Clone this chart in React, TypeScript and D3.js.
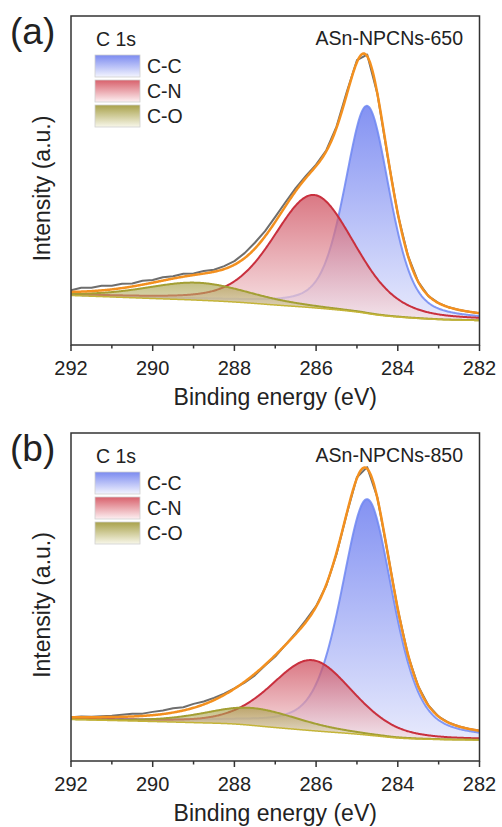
import React from "react";
import * as d3 from "d3";

// ---------- data ----------
const X_MAJOR = [292, 290, 288, 286, 284, 282];
const X_MINOR = [291, 289, 287, 285, 283];
const COMPONENTS = ["C-C", "C-N", "C-O"];
const CORE_LEVEL = "C 1s";
const X_TITLE = "Binding energy (eV)";
const Y_TITLE = "Intensity (a.u.)";

// Shirley-type background (binding energy, intensity)
const BG_E = [292, 291, 290, 289, 288, 287, 286, 285, 284.5, 284, 283, 282];
const A_BG_I = [15.05, 14.6, 14.13, 13.68, 13.07, 12.16, 11.25, 10.03, 9.12, 8.51, 7.75, 7.45];
const B_BG_I = [12.65, 12.35, 12.04, 11.7, 11.28, 10.2, 9.15, 8.2, 7.6, 7.0, 6.55, 6.4];

// fitted components: C-C, C-N, C-O
const A_SAMPLE = "ASn-NPCNs-650";
const A_PEAK_CENTER = [284.75, 286.05, 288.9];
const A_PEAK_HEIGHT = [63.1, 34.3, 5.3];
const A_PEAK_FWHM = [1.3, 2.35, 3.0];
const A_PEAK_ETA = [0.4, 0.3, 0.3];

const B_SAMPLE = "ASn-NPCNs-850";
const B_PEAK_CENTER = [284.75, 286.1, 287.55];
const B_PEAK_HEIGHT = [71.9, 21.5, 5.3];
const B_PEAK_FWHM = [1.5, 2.35, 2.7];
const B_PEAK_ETA = [0.45, 0.3, 0.3];

// raw spectrum, as deviation from the fit envelope
const RAW_E = [292, 291.75, 291.5, 291.25, 291, 290.75, 290.5, 290.25, 290, 289.75, 289.5, 289.25, 289,
  288.75, 288.5, 288.25, 288, 287.75, 287.5, 287.25, 287, 286.75, 286.5, 286.25, 286, 285.75, 285.5,
  285.25, 285, 284.75, 284.5, 284.25, 284, 283.75, 283.5, 283.25, 283, 282.75, 282.5, 282.25, 282];
const A_RAW_RESID = [0.5, 1.2, 1.0, 1.4, 1.1, 1.3, 0.9, 1.2, 0.8, 1.0, 0.7, 0.9, 0.5,
  0.8, 0.6, 0.9, 1.1, 1.5, 1.8, 1.6, 1.5, 1.2, 0.9, 0.6, 0.4, 0.3, 0.4,
  0.8, 0.6, 0.5, 0.0, -0.3, -0.2, 0.0, 0.0, -0.1, 0.0, 0.0, 0.0, 0.0, 0.0];
const B_RAW_RESID = [0.0, 0.2, 0.1, 0.3, 0.4, 0.6, 0.8, 0.7, 1.0, 1.1, 1.3, 1.0, 1.2,
  0.9, 0.7, 0.4, 0.1, -0.3, -0.5, -0.2, -0.4, 0.0, 0.3, 0.6, 0.2, -0.3, -0.5,
  -0.2, 0.3, 0.5, 0.2, 0.0, -0.2, -0.2, 0.0, 0.0, 0.0, 0.0, 0.0, 0.0, 0.0];

// ---------- styles ----------
const FONT = "'Liberation Sans', Arial, Helvetica, sans-serif";
const LINE_COLORS = ["#6f87f2", "#c9303e", "#a39f34"];
const FILL_TOP = ["#6e7ff0", "#cc4454", "#a0983a"];
const FILL_BOTTOM = ["#e3e6fc", "#f7e2e5", "#ebe7cf"];
const FILL_OPACITY = [0.85, 0.72, 0.62];
const LEG_TOP = ["#7b8af0", "#d8606b", "#a8a14a"];
const LEG_BOTTOM = ["#f3f4fe", "#fdf0f2", "#f8f7ea"];
const ENVELOPE_COLOR = "#f3901f";
const RAW_COLOR = "#6e6e6e";
const BG_COLOR = "#c4b438";

const LEFT = 71;
const RIGHT = 479.5;

function pseudoVoigt(x: number, c: number, h: number, w: number, eta: number) {
  const r = (x - c) / w;
  const r2 = 4 * r * r;
  return h * ((1 - eta) * Math.exp(-Math.LN2 * r2) + eta / (1 + r2));
}

function monotone(xsIn: number[], ysIn: number[]) {
  const idx = xsIn.map((_, i) => i).sort((a, b) => xsIn[a] - xsIn[b]);
  const xs = idx.map((i) => xsIn[i]);
  const ys = idx.map((i) => ysIn[i]);
  const n = xs.length;
  const d: number[] = [];
  const m: number[] = [];
  for (let i = 0; i < n - 1; i++) d.push((ys[i + 1] - ys[i]) / (xs[i + 1] - xs[i]));
  m[0] = d[0];
  m[n - 1] = d[n - 2];
  for (let i = 1; i < n - 1; i++) m[i] = d[i - 1] * d[i] <= 0 ? 0 : (d[i - 1] + d[i]) / 2;
  for (let i = 0; i < n - 1; i++) {
    if (d[i] === 0) { m[i] = 0; m[i + 1] = 0; continue; }
    const a = m[i] / d[i], b = m[i + 1] / d[i], s = a * a + b * b;
    if (s > 9) { const t = 3 / Math.sqrt(s); m[i] = t * a * d[i]; m[i + 1] = t * b * d[i]; }
  }
  return (x: number) => {
    let i = d3.bisectRight(xs, x) - 1;
    i = Math.max(0, Math.min(n - 2, i));
    const h = xs[i + 1] - xs[i];
    const t = (x - xs[i]) / h;
    const t2 = t * t, t3 = t2 * t;
    return (2 * t3 - 3 * t2 + 1) * ys[i] + (t3 - 2 * t2 + t) * h * m[i] +
      (-2 * t3 + 3 * t2) * ys[i + 1] + (t3 - t2) * h * m[i + 1];
  };
}

type PanelProps = {
  id: string;
  letter: string;
  sample: string;
  top: number;
  bottom: number;
  bgI: number[];
  centers: number[];
  heights: number[];
  fwhm: number[];
  eta: number[];
  resid: number[];
};

function Panel(p: PanelProps) {
  const x = d3.scaleLinear().domain([292, 282]).range([LEFT, RIGHT]);
  const y = d3.scaleLinear().domain([0, 100]).range([p.bottom, p.top]);
  const bg = monotone(BG_E, p.bgI);
  const grid = d3.range(282, 292.0001, 0.02);
  const comp = (k: number, e: number) => pseudoVoigt(e, p.centers[k], p.heights[k], p.fwhm[k], p.eta[k]);
  const envelope = (e: number) => bg(e) + COMPONENTS.reduce((s, _, k) => s + comp(k, e), 0);

  const area = (k: number) =>
    d3.area<number>().x((e) => x(e)).y0((e) => y(bg(e))).y1((e) => y(bg(e) + comp(k, e)))(grid) || "";
  const compLine = (k: number) =>
    d3.line<number>().x((e) => x(e)).y((e) => y(bg(e) + comp(k, e)))(grid) || "";
  const bgLine = d3.line<number>().x((e) => x(e)).y((e) => y(bg(e))).curve(d3.curveMonotoneX)(grid) || "";
  const envLine = d3.line<number>().x((e) => x(e)).y((e) => y(envelope(e)))(grid) || "";
  const rawLine = d3.line<number>().x((e) => x(e)).y((e, i) => y(envelope(e) + p.resid[i]))(RAW_E) || "";

  const clipId = `clip-${p.id}`;
  const legX = 95;
  const legTop = p.top + 39;

  return (
    <g>
      <defs>
        <clipPath id={clipId}>
          <rect x={LEFT} y={p.top} width={RIGHT - LEFT} height={p.bottom - p.top} />
        </clipPath>
        {COMPONENTS.map((c, k) => (
          <linearGradient key={c} id={`fill-${p.id}-${k}`} x1="0" y1="0" x2="0" y2="1">
            <stop offset="0" stopColor={FILL_TOP[k]} />
            <stop offset="1" stopColor={FILL_BOTTOM[k]} />
          </linearGradient>
        ))}
        {COMPONENTS.map((c, k) => (
          <linearGradient key={c} id={`leg-${p.id}-${k}`} x1="0" y1="0" x2="0" y2="1">
            <stop offset="0" stopColor={LEG_TOP[k]} />
            <stop offset="1" stopColor={LEG_BOTTOM[k]} />
          </linearGradient>
        ))}
      </defs>

      <g clipPath={`url(#${clipId})`}>
        {COMPONENTS.map((c, k) => (
          <g key={c}>
            <path d={area(k)} fill={`url(#fill-${p.id}-${k})`} fillOpacity={FILL_OPACITY[k]} />
            <path d={compLine(k)} fill="none" stroke={LINE_COLORS[k]} strokeWidth={2}
              strokeOpacity={k === 0 ? 0.85 : 1} />
          </g>
        ))}
        <path d={bgLine} fill="none" stroke={BG_COLOR} strokeWidth={1.5} />
        <path d={rawLine} fill="none" stroke={RAW_COLOR} strokeWidth={2} strokeLinejoin="round" />
        <path d={envLine} fill="none" stroke={ENVELOPE_COLOR} strokeWidth={2.5} />
      </g>

      <rect x={LEFT} y={p.top} width={RIGHT - LEFT} height={p.bottom - p.top}
        fill="none" stroke="#333" strokeWidth={1.5} />

      {X_MAJOR.map((t) => (
        <g key={t}>
          <line x1={x(t)} x2={x(t)} y1={p.bottom} y2={p.bottom + 6} stroke="#333" strokeWidth={1.5} />
          <text x={x(t)} y={p.bottom + 30} textAnchor="middle" fontSize={20} fontFamily={FONT} fill="#222">{t}</text>
        </g>
      ))}
      {X_MINOR.map((t) => (
        <line key={t} x1={x(t)} x2={x(t)} y1={p.bottom} y2={p.bottom + 3.5} stroke="#333" strokeWidth={1.5} />
      ))}
      <text x={(LEFT + RIGHT) / 2} y={p.bottom + 60} textAnchor="middle" fontSize={23} fontFamily={FONT} fill="#222">{X_TITLE}</text>
      <text transform={`translate(50,${(p.top + p.bottom) / 2 + 8}) rotate(-90)`} textAnchor="middle"
        fontSize={23} fontFamily={FONT} fill="#222">{Y_TITLE}</text>

      <text x={10} y={p.top + 28} fontSize={37} fontFamily={FONT} fill="#222">{p.letter}</text>
      <text x={96} y={p.top + 30} fontSize={19.5} fontFamily={FONT} fill="#222">{CORE_LEVEL}</text>
      <text x={463} y={p.top + 29} textAnchor="end" fontSize={19.5} fontFamily={FONT} fill="#222">{p.sample}</text>

      {COMPONENTS.map((c, k) => (
        <g key={c}>
          <rect x={legX} y={legTop + k * 25} width={45} height={22}
            fill={`url(#leg-${p.id}-${k})`} stroke="#d0d0d0" strokeWidth={0.8} />
          <text x={147} y={legTop + k * 25 + 18} fontSize={19.5} fontFamily={FONT} fill="#222">{c}</text>
        </g>
      ))}
    </g>
  );
}

export default function App() {
  return (
    <svg width={502} height={827} style={{ position: "absolute", left: 0, top: 0, background: "#fff" }}>
      <rect x={0} y={0} width={502} height={827} fill="#fff" />
      <Panel id="a" letter="(a)" sample={A_SAMPLE} top={16} bottom={345} bgI={A_BG_I}
        centers={A_PEAK_CENTER} heights={A_PEAK_HEIGHT} fwhm={A_PEAK_FWHM} eta={A_PEAK_ETA} resid={A_RAW_RESID} />
      <Panel id="b" letter="(b)" sample={B_SAMPLE} top={433} bottom={761} bgI={B_BG_I}
        centers={B_PEAK_CENTER} heights={B_PEAK_HEIGHT} fwhm={B_PEAK_FWHM} eta={B_PEAK_ETA} resid={B_RAW_RESID} />
    </svg>
  );
}
